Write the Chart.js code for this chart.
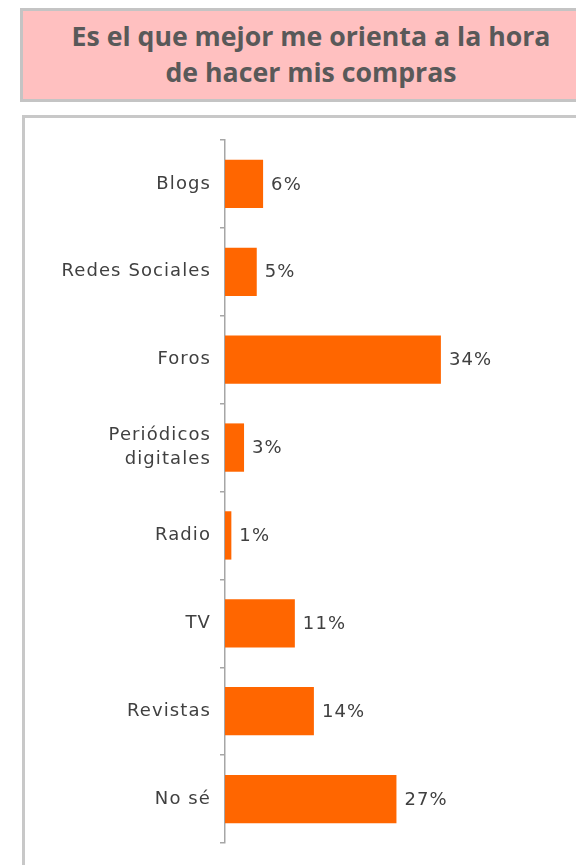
<!DOCTYPE html>
<html>
<head>
<meta charset="utf-8">
<script src="https://cdn.jsdelivr.net/npm/chart.js@4.4.1/dist/chart.umd.min.js"></script>
<style>
  html, body { margin: 0; padding: 0; background: #fff; }
  body { width: 576px; height: 865px; position: relative; overflow: hidden; }
  .title-box {
    position: absolute; left: 20px; top: 8px; width: 580px; height: 88px;
    background: #ffc0c0; border: 3px solid #c4c4c4;
    font-family: "Open Sans", sans-serif; font-weight: 700; font-size: 26.7px;
    color: #595959; line-height: 36px;
  }
  .title-box p { margin: 0; position: absolute; left: 8px; width: 560px; text-align: center; top: 7px; }
  .panel {
    position: absolute; left: 22px; top: 115px; width: 600px; height: 800px;
    border: 3px solid #c8c8c8; background: #fff;
  }
  .chart-wrap { position: absolute; left: 0; top: 0; width: 576px; height: 865px; }
</style>
</head>
<body>
<div class="title-box"><p>Es el que mejor me orienta a la hora<br>de hacer mis compras</p></div>
<div class="panel"></div>
<div class="chart-wrap"><canvas id="chart"></canvas></div>
<script>
const categories = ['Blogs', 'Redes Sociales', 'Foros', ['Periódicos', 'digitales'], 'Radio', 'TV', 'Revistas', 'No sé'];
const percentages = [6, 5, 34, 3, 1, 11, 14, 27];

const textFont = '"DejaVu Sans", sans-serif';

// wider tracking for all canvas text
const spacing = {
  id: 'spacing',
  beforeDraw(chart) { chart.ctx.letterSpacing = '1.1px'; },
  afterDraw(chart) { chart.ctx.letterSpacing = '0px'; }
};

// value labels to the right of each bar
const barLabels = {
  id: 'barLabels',
  afterDatasetsDraw(chart) {
    const ctx = chart.ctx;
    const meta = chart.getDatasetMeta(0);
    ctx.save();
    ctx.font = '18px ' + textFont;
    ctx.fillStyle = '#404040';
    ctx.textAlign = 'left';
    ctx.textBaseline = 'middle';
    meta.data.forEach((bar, i) => {
      ctx.fillText(percentages[i] + '%', bar.x + 8, bar.y + 1);
    });
    ctx.restore();
  }
};

const ctx = document.getElementById('chart').getContext('2d');
new Chart(ctx, {
  type: 'bar',
  data: {
    labels: categories,
    datasets: [{
      data: percentages,
      backgroundColor: '#ff6600',
      borderWidth: 0,
      categoryPercentage: 1,
      barPercentage: 0.55
    }]
  },
  options: {
    indexAxis: 'y',
    responsive: true,
    maintainAspectRatio: false,
    animation: false,
    layout: { padding: { top: 140, bottom: 22, left: 0, right: 97 } },
    plugins: { legend: { display: false }, tooltip: { enabled: false } },
    scales: {
      x: { display: false, min: 0, max: 40 },
      y: {
        afterFit(scale) { scale.width = 225; },
        border: { color: '#a6a6a6', width: 1.5 },
        grid: { drawOnChartArea: false, drawTicks: true, tickLength: 5, color: '#a6a6a6', lineWidth: 1.5 },
        ticks: {
          color: '#404040',
          padding: 9,
          font: { family: textFont, size: 18, lineHeight: 1.35 }
        }
      }
    }
  },
  plugins: [spacing, barLabels]
});
</script>
</body>
</html>
